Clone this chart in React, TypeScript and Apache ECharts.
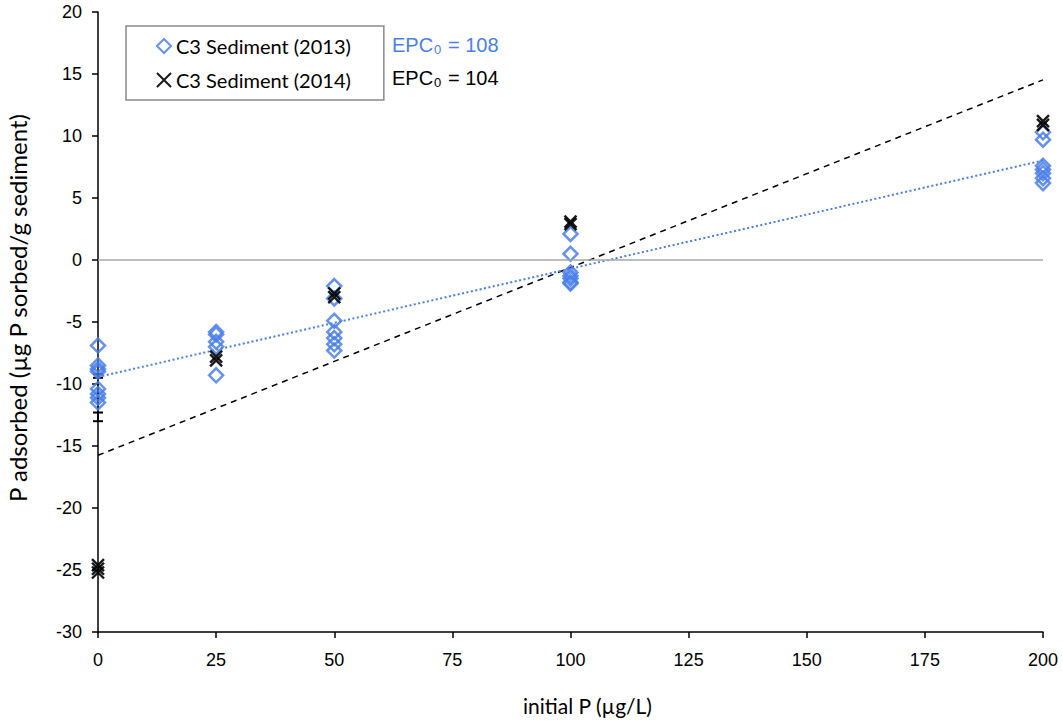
import React, { useEffect, useRef } from "react";
import * as echarts from "echarts";

// ---- data ----
const xTicks = [0, 25, 50, 75, 100, 125, 150, 175, 200];
const sed2013: [number, number][] = [
  [0, -6.9], [0, -8.5], [0, -8.8], [0, -9.0], [0, -10.4], [0, -10.8], [0, -11.1], [0, -11.5],
  [25, -5.8], [25, -6.0], [25, -6.6], [25, -7.0], [25, -9.3],
  [50, -2.1], [50, -3.1], [50, -4.9], [50, -5.8], [50, -6.3], [50, -6.8], [50, -7.3],
  [100, 2.1], [100, 0.5], [100, -1.0], [100, -1.3], [100, -1.5], [100, -1.8], [100, -1.9],
  [200, 10.3], [200, 9.7], [200, 7.6], [200, 7.3], [200, 7.0], [200, 6.6], [200, 6.2],
];
const sed2014: [number, number][] = [
  [0, -24.6], [0, -24.9], [0, -25.2],
  [25, -7.8], [25, -8.1],
  [50, -2.7], [50, -3.0],
  [100, 2.9], [100, 3.1],
  [200, 10.9], [200, 11.2],
];
// error bars at x = 0: [x, high, low]
const errorBars: [number, number, number][] = [
  [0, -9.2, -12.3],
  [0, -9.5, -13.0],
];
// linear trend lines: value at x = 0 and x = 200
const trend2013: [number, number][] = [[0, -9.43], [200, 8.03]];
const trend2014: [number, number][] = [[0, -15.75], [200, 14.53]];
const epc2013 = 108;
const epc2014 = 104;

const BLUE = "#4a7fea";
const CROSS = "path://M0,0L10,10M10,0L0,10";

export default function App() {
  const ref = useRef<HTMLDivElement>(null);
  useEffect(() => {
    document.body.style.margin = "0";
    const chart = echarts.init(ref.current!, null, { renderer: "svg" });
    const axisFont = { fontFamily: "Liberation Sans, Arial, sans-serif", fontSize: 18, color: "#000" };
    const epcRich = (c: string) => ({
      a: { fontFamily: "Liberation Sans, Arial, sans-serif", fontSize: 20, fill: c, height: 24 },
      s: { fontFamily: "Liberation Sans, Arial, sans-serif", fontSize: 13, fill: c, verticalAlign: "bottom", height: 24, padding: [9, 1, 0, 1] },
    });
    chart.setOption({
      animation: false,
      backgroundColor: "#fff",
      grid: { left: 98, right: 20, top: 12, bottom: 89, containLabel: false, outerBoundsMode: "none" },
      legend: {
        orient: "vertical",
        left: 126,
        top: 26,
        backgroundColor: "#fff",
        borderColor: "#8a8a8a",
        borderWidth: 1.5,
        padding: [10, 33, 10, 30],
        itemGap: 14,
        itemWidth: 14,
        itemHeight: 14,
        data: ["C3 Sediment (2013)", "C3 Sediment (2014)"],
        textStyle: { fontFamily: "Lato, sans-serif", fontSize: 20, color: "#000" },
      },
      xAxis: {
        type: "value",
        min: 0,
        max: 200,
        interval: 25,
        name: "initial P (µg/L)",
        nameLocation: "middle",
        nameGap: 63,
        nameTextStyle: { fontFamily: "Lato, sans-serif", fontSize: 21, color: "#000", padding: [0, 0, 0, 34] },
        axisLine: { onZero: false, lineStyle: { color: "#000", width: 1.5 } },
        axisTick: { show: true, inside: false, length: 6, lineStyle: { color: "#000", width: 1.5 } },
        axisLabel: { ...axisFont, margin: 19, formatter: (v: number) => (xTicks.includes(v) ? String(v) : "") },
        splitLine: { show: false },
      },
      yAxis: {
        type: "value",
        min: -30,
        max: 20,
        interval: 5,
        name: "P adsorbed (µg P sorbed/g sediment)",
        nameLocation: "middle",
        nameGap: 69,
        nameTextStyle: { fontFamily: "Lato, sans-serif", fontSize: 24, color: "#000", padding: [0, 0, 0, 28] },
        axisLine: { show: true, onZero: false, lineStyle: { color: "#000", width: 1.5 } },
        axisTick: { show: true, inside: false, length: 6, lineStyle: { color: "#000", width: 1.5 } },
        axisLabel: { ...axisFont, margin: 16 },
        splitLine: { show: false },
      },
      graphic: [
        {
          type: "text",
          left: 392,
          top: 35,
          style: { text: `{a|EPC}{s|0}{a| = ${epc2013}}`, fill: BLUE, rich: epcRich(BLUE) },
        },
        {
          type: "text",
          left: 392,
          top: 68,
          style: { text: `{a|EPC}{s|0}{a| = ${epc2014}}`, fill: "#000", rich: epcRich("#000") },
        },
      ],
      series: [
        {
          name: "zero",
          type: "line",
          data: [],
          silent: true,
          markLine: {
            symbol: "none",
            silent: true,
            label: { show: false },
            lineStyle: { color: "#a6a6a6", width: 1.5, type: "solid" },
            data: [{ yAxis: 0 }],
          },
        },
        {
          name: "trend2014",
          type: "line",
          data: trend2014,
          symbol: "none",
          silent: true,
          lineStyle: { color: "#000", width: 1.5, type: [6, 5] },
          z: 2,
        },
        {
          name: "trend2013",
          type: "line",
          data: trend2013,
          symbol: "none",
          silent: true,
          lineStyle: { color: BLUE, width: 2, type: [2, 2.5] },
          z: 2,
        },
        {
          name: "errors",
          type: "custom",
          data: errorBars,
          z: 3,
          renderItem: (params: any, api: any) => {
            const top = api.coord([api.value(0), api.value(1)]);
            const bot = api.coord([api.value(0), api.value(2)]);
            const w = 5;
            const st = { stroke: "#000", lineWidth: 2 };
            return {
              type: "group",
              children: [
                { type: "line", shape: { x1: top[0], y1: top[1], x2: bot[0], y2: bot[1] }, style: st },
                { type: "line", shape: { x1: top[0] - w, y1: top[1], x2: top[0] + w, y2: top[1] }, style: st },
                { type: "line", shape: { x1: bot[0] - w, y1: bot[1], x2: bot[0] + w, y2: bot[1] }, style: st },
              ],
            };
          },
        },
        {
          name: "C3 Sediment (2013)",
          type: "scatter",
          data: sed2013,
          symbol: "diamond",
          symbolSize: 14,
          z: 4,
          itemStyle: { color: "rgba(255,255,255,0)", borderColor: BLUE, borderWidth: 2.5, opacity: 0.85 },
        },
        {
          name: "C3 Sediment (2014)",
          type: "scatter",
          data: sed2014,
          symbol: CROSS,
          symbolSize: 12,
          z: 5,
          itemStyle: { color: "rgba(0,0,0,0)", borderColor: "#000", borderWidth: 2.4, opacity: 0.9 },
        },
      ],
    });
    return () => chart.dispose();
  }, []);
  return <div ref={ref} style={{ width: 1063, height: 721 }} />;
}
